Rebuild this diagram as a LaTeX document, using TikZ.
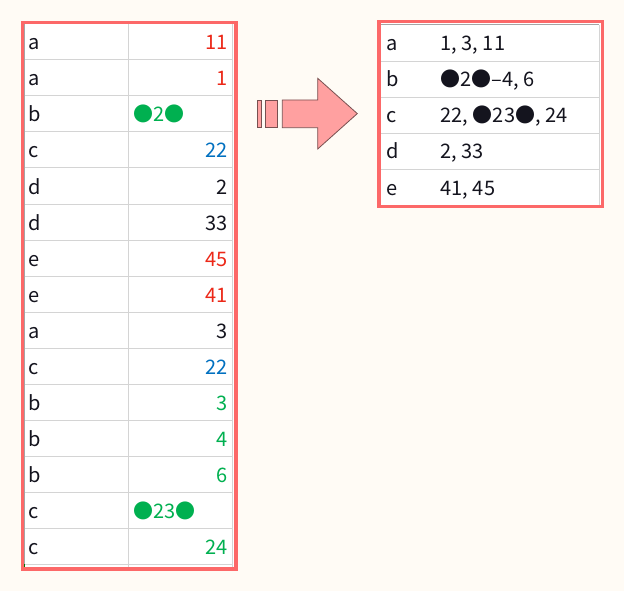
\documentclass[tikz,border=0pt]{standalone}
\usepackage{fontspec}
\setmainfont{Noto Sans CJK JP}
\definecolor{bgc}{RGB}{255,251,245}
\definecolor{redb}{RGB}{252,104,104}
\definecolor{gridc}{RGB}{212,212,212}
\definecolor{griddk}{RGB}{165,165,165}
\definecolor{tred}{RGB}{236,40,24}
\definecolor{tblue}{RGB}{0,112,192}
\definecolor{tgreen}{RGB}{0,176,80}
\definecolor{tblack}{RGB}{20,20,30}
\definecolor{arrowfill}{RGB}{255,160,160}
\definecolor{arrowline}{RGB}{120,80,80}
\tikzset{
  cell/.style={inner sep=0pt, text=tblack},
  gline/.style={draw=gridc, line width=1pt},
  gdark/.style={draw=griddk, line width=1pt},
  redframe/.style={draw=redb, line width=3.3pt},
  arrowpart/.style={fill=arrowfill, draw=arrowline, line width=0.8pt},
}
\begin{document}
\begin{tikzpicture}[x=1pt,y=-1pt,font=\fontsize{20}{24}\selectfont]
\fill[bgc] (0,0) rectangle (624,591);
\useasboundingbox (0,0) rectangle (624,591);
% ---------- left table ----------
\fill[white] (22.3,22.3) rectangle (236,569);
\foreach \i in {1,...,15} {
  \draw[gline] (24,24+36*\i) -- (233,24+36*\i);
}
\draw[gline] (128.3,24) -- (128.3,567);
\draw[gline] (232.7,24) -- (232.7,567);
\draw[gdark] (24,24) -- (233,24);
\draw[gdark] (24,24) -- (24,567);
\fill[green!45!black] (22.8,563.5) rectangle (25.3,566.5);
\draw[redframe] (22.3,22.3) rectangle (236,569);
\foreach \i/\l/\v/\c in {1/a/11/tred, 2/a/1/tred, 4/c/22/tblue, 5/d/2/tblack,
  6/d/33/tblack, 7/e/45/tred, 8/e/41/tred, 9/a/3/tblack, 10/c/22/tblue,
  11/b/3/tgreen, 12/b/4/tgreen, 13/b/6/tgreen, 15/c/24/tgreen} {
  \node[cell, anchor=base west] (L\i) at (28,50+36*\i-36) {\l};
  \node[cell, anchor=base east, text=\c] (V\i) at (227.5,50+36*\i-36) {\v};
}
\node[cell, anchor=base west] (L3) at (28,122) {b};
\node[cell, anchor=base west, text=tgreen] (V3) at (133,122) {●2●};
\node[cell, anchor=base west] (L14) at (28,518) {c};
\node[cell, anchor=base west, text=tgreen] (V14) at (133,518) {●23●};
% ---------- arrow ----------
\path[arrowpart] (257.3,100) rectangle (261.7,127.7);
\path[arrowpart] (265,100) rectangle (277.3,127.7);
\path[arrowpart] (282.3,100) -- (317.7,100) -- (317.7,78.3) -- (357.3,113.6)
  -- (317.7,149) -- (317.7,127.7) -- (282.3,127.7) -- cycle;
% ---------- right table ----------
\fill[white] (379,21.7) rectangle (602.3,206.7);
\foreach \y in {61.7,97.7,133.3,169.3,205} {
  \draw[gline] (380.7,\y) -- (599.3,\y);
}
\draw[gline] (599.3,24.7) -- (599.3,205);
\draw[gdark] (380.7,24.7) -- (599.3,24.7);
\draw[gdark] (380.7,24.7) -- (380.7,205);
\draw[redframe] (379,21.7) rectangle (602.3,206.7);
\foreach \i/\l/\v in {1/a/{1, 3, 11}, 2/b/{●2●–4, 6}, 3/c/{22, ●23●, 24},
  4/d/{2, 33}, 5/e/{41, 45}} {
  \node[cell, anchor=base west] (RL\i) at (386.5,51+36*\i-36) {\l};
  \node[cell, anchor=base west] (RV\i) at (440.5,51+36*\i-36) {\v};
}
\end{tikzpicture}
\end{document}
